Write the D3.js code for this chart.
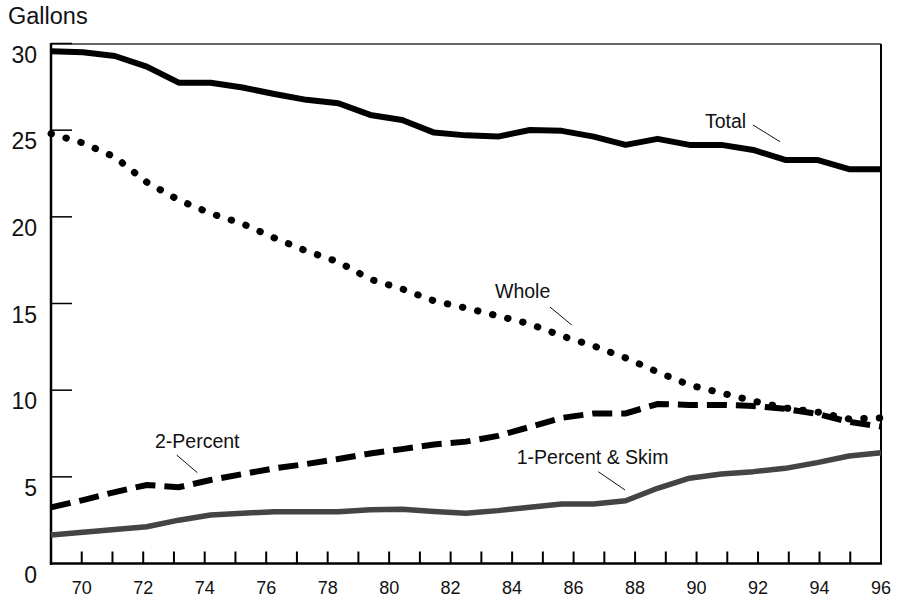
<!DOCTYPE html>
<html><head><meta charset="utf-8">
<script src="https://cdn.jsdelivr.net/npm/d3@7"></script>
<style>body{margin:0;background:#fff}svg{display:block}</style>
</head><body><svg id="c" width="900" height="601"></svg>
<script>
// Data years (27 points spread across the axis span)
const years = [1970,1971,1972,1973,1974,1975,1976,1977,1978,1979,1980,1981,1982,1983,1984,1985,1986,1987,1988,1989,1990,1991,1992,1993,1994,1995,1996];
const total = [29.55,29.5,29.28,28.67,27.74,27.74,27.46,27.09,26.75,26.55,25.88,25.59,24.86,24.7,24.63,25.01,24.96,24.63,24.15,24.5,24.15,24.15,23.86,23.28,23.28,22.75,22.75];
const whole = [24.8,24.26,23.45,22.0,20.97,20.2,19.6,18.78,18.03,17.4,16.4,15.84,15.15,14.74,14.28,13.82,13.13,12.55,11.86,11.05,10.3,9.84,9.38,8.97,8.74,8.34,8.4];
const twoPercent = [3.24,3.66,4.12,4.53,4.4,4.82,5.16,5.49,5.74,6.03,6.35,6.6,6.87,7.03,7.36,7.88,8.4,8.66,8.66,9.2,9.15,9.15,9.09,8.92,8.63,8.17,7.9];
const onePercentSkim = [1.64,1.8,1.96,2.12,2.5,2.8,2.9,2.99,2.99,2.99,3.1,3.13,3.0,2.9,3.05,3.25,3.43,3.43,3.62,4.34,4.92,5.16,5.3,5.49,5.82,6.2,6.39];
const yTicks = [0,5,10,15,20,25,30];
const xTickYears = [70,71,72,73,74,75,76,77,78,79,80,81,82,83,84,85,86,87,88,89,90,91,92,93,94,95];
const xLabels = ["70","72","74","76","78","80","82","84","86","88","90","92","94","96"];
const seriesLabels = ["Total","Whole","2-Percent","1-Percent & Skim"];

const svg = d3.select("#c");
const L = 51, R = 881, T = 44, B = 563.5;
const x = d3.scaleLinear().domain([69,96]).range([L,R]);
const xData = d3.scaleLinear().domain([years[0], years[years.length-1]]).range([L,R]);
const y = d3.scaleLinear().domain([0,30]).range([B,43.5]);
const font = "Arial, 'Liberation Sans', Helvetica, sans-serif";

// Frame
svg.append("line").attr("x1",L).attr("x2",R).attr("y1",T).attr("y2",T).attr("stroke","#333").attr("stroke-width",1.5);
svg.append("line").attr("x1",R).attr("x2",R).attr("y1",T).attr("y2",B).attr("stroke","#000").attr("stroke-width",2);

// Y ticks
svg.selectAll(".yt").data(yTicks.filter(d=>d>0)).join("line")
  .attr("x1",L).attr("x2",L+21).attr("y1",d=>y(d)).attr("y2",d=>y(d))
  .attr("stroke","#000").attr("stroke-width",1.5);
svg.selectAll(".yl").data(yTicks).join("text")
  .attr("x",37).attr("y",d=>y(d)+11).attr("dy","0.35em")
  .attr("text-anchor","end").attr("font-family",font).attr("font-size",23).attr("fill","#111")
  .text(d=>d);

// X ticks
svg.selectAll(".xt").data(xTickYears).join("line")
  .attr("x1",d=>x(d)).attr("x2",d=>x(d)).attr("y1",B).attr("y2",B-12)
  .attr("stroke","#000").attr("stroke-width",2);
svg.selectAll(".xl").data(xLabels).join("text")
  .attr("x",d=>x(+d)).attr("y",594)
  .attr("text-anchor","middle").attr("font-family",font).attr("font-size",18).attr("fill","#111")
  .text(d=>d);

// Axes lines
svg.append("line").attr("x1",L).attr("x2",L).attr("y1",T-1).attr("y2",B+1.5).attr("stroke","#000").attr("stroke-width",2.5);
svg.append("line").attr("x1",L-1).attr("x2",R+1).attr("y1",B).attr("y2",B).attr("stroke","#000").attr("stroke-width",2.5);

// Title
svg.append("text").attr("x",8).attr("y",24).attr("font-family",font).attr("font-size",23.5).attr("fill","#111").text("Gallons");

const line = arr => d3.line().x((d,i)=>xData(years[i])).y(d=>y(d))(arr);

svg.append("path").attr("d",line(onePercentSkim)).attr("fill","none").attr("stroke","#444").attr("stroke-width",5.5).attr("stroke-linejoin","round");
svg.append("path").attr("d",line(twoPercent)).attr("fill","none").attr("stroke","#000").attr("stroke-width",6).attr("stroke-dasharray","20,9");
svg.append("path").attr("d",line(whole)).attr("fill","none").attr("stroke","#000").attr("stroke-width",7).attr("stroke-linecap","round").attr("stroke-dasharray","0.5,15");
svg.append("path").attr("d",line(total)).attr("fill","none").attr("stroke","#000").attr("stroke-width",6).attr("stroke-linejoin","round");

// Annotations
const ann = [
  {t:seriesLabels[0], tx:705, ty:128, l:[753,125,780,141.7]},
  {t:seriesLabels[1], tx:495, ty:298, l:[550,307,571.7,325]},
  {t:seriesLabels[2], tx:155, ty:448, l:[176.7,455,197.3,472.7]},
  {t:seriesLabels[3], tx:516.7, ty:464.3, l:[598.3,471.7,625,490]}
];
ann.forEach(a=>{
  svg.append("text").attr("x",a.tx).attr("y",a.ty).attr("font-family",font).attr("font-size",19.5).attr("fill","#111").text(a.t);
  svg.append("line").attr("x1",a.l[0]).attr("y1",a.l[1]).attr("x2",a.l[2]).attr("y2",a.l[3]).attr("stroke","#111").attr("stroke-width",1);
});
</script></body></html>
